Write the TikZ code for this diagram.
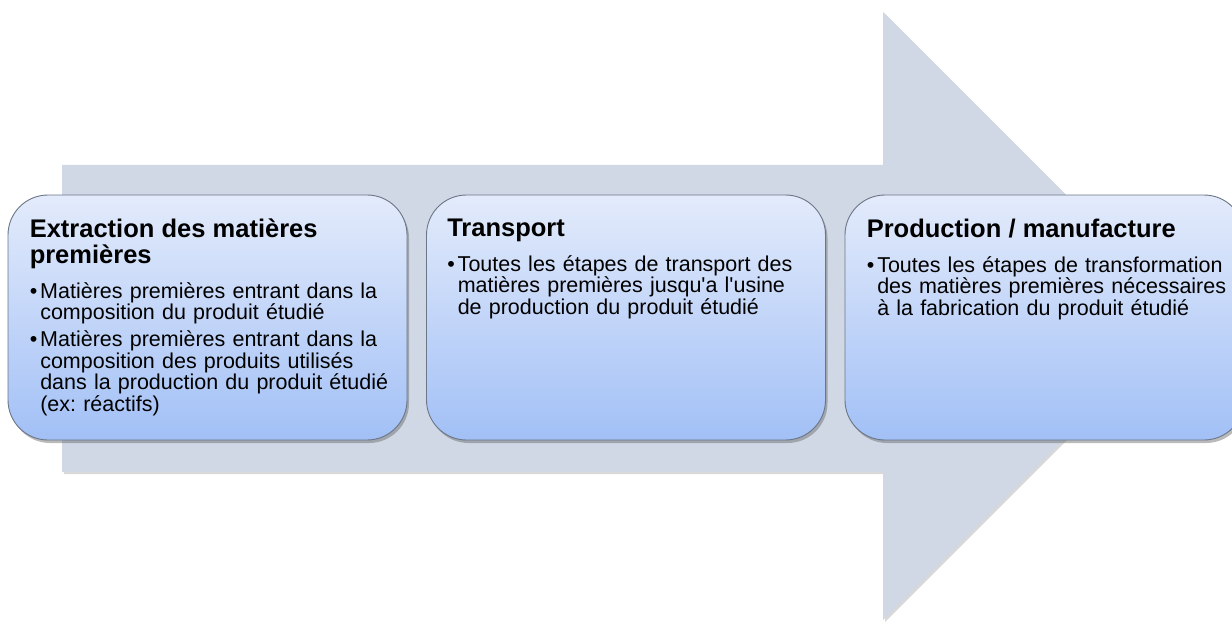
\documentclass[tikz,border=0pt]{standalone}
\usepackage{fontspec}
\setmainfont{Liberation Sans}
\usepackage{tikz}
\usetikzlibrary{positioning,calc,shadows}

\newcommand{\stagefont}{\fontsize{21.5}{21.5}\selectfont\frenchspacing\hyphenpenalty=10000\relax}
\newcommand{\stagetitle}[1]{{\bfseries\fontsize{25.5}{26}\selectfont #1\par}\vspace{13.5pt}}
\newcommand{\stageitem}[1]{\par\rightskip=0pt plus 5em\relax\hangindent=10.5pt\hangafter=1\noindent\makebox[10.5pt][l]{\textbullet}#1\par\vspace{5.5pt}}

\definecolor{arrowfill}{HTML}{D0D8E6}
\definecolor{boxtop}{HTML}{E3EBFB}
\definecolor{boxbottom}{HTML}{A2C0F6}
\definecolor{boxline}{HTML}{6B7687}

\begin{document}
\begin{tikzpicture}[x=1pt, y=-1pt,
  stagebox/.style={draw=boxline, line width=0.9pt, rectangle, rounded corners=40pt,
    minimum width=399pt, minimum height=245pt, top color=boxtop, bottom color=boxbottom,
    drop shadow={shadow xshift=2pt, shadow yshift=-3pt, opacity=0.45, fill=black!60}},
  stagetext/.style={anchor=north west, inner sep=0pt, text width=366pt, align=left,
    font=\stagefont}]
  \useasboundingbox (0,0) rectangle (1232,623);

  % the big arrow behind
  \fill[arrowfill, drop shadow={shadow xshift=2pt, shadow yshift=-2pt, opacity=0.3}]
    (62,165) -- (883,165) -- (883,12) -- (1187,316) -- (883,620) -- (883,472) -- (62,472) -- cycle;

  \node[stagebox] at (207.5,317.5) (extraction) {};
  \node[stagebox] at (626,317.5) (transport) {};
  \node[stagebox] at (1044.5,317.5) (production) {};

  \node[stagetext] at ($(extraction.north west)+(22,24)$) (extractiontext) {%
    \stagetitle{Extraction des matières premières}%
    \stageitem{Matières premières entrant dans la composition du produit étudié}%
    \stageitem{Matières premières entrant dans la composition des produits utilisés dans la production du produit étudié (ex: réactifs)}};
  \node[stagetext] at ($(transport.north west)+(21,24)$) (transporttext) {%
    \stagetitle{Transport}%
    \stageitem{Toutes les étapes de transport des matières premières jusqu\textquotesingle a l\textquotesingle usine de production du produit étudié}};
  \node[stagetext] at ($(production.north west)+(22,24)$) (productiontext) {%
    \stagetitle{Production / manufacture}%
    \stageitem{Toutes les étapes de transformation des matières premières nécessaires à la fabrication du produit étudié}};

\end{tikzpicture}
\end{document}
